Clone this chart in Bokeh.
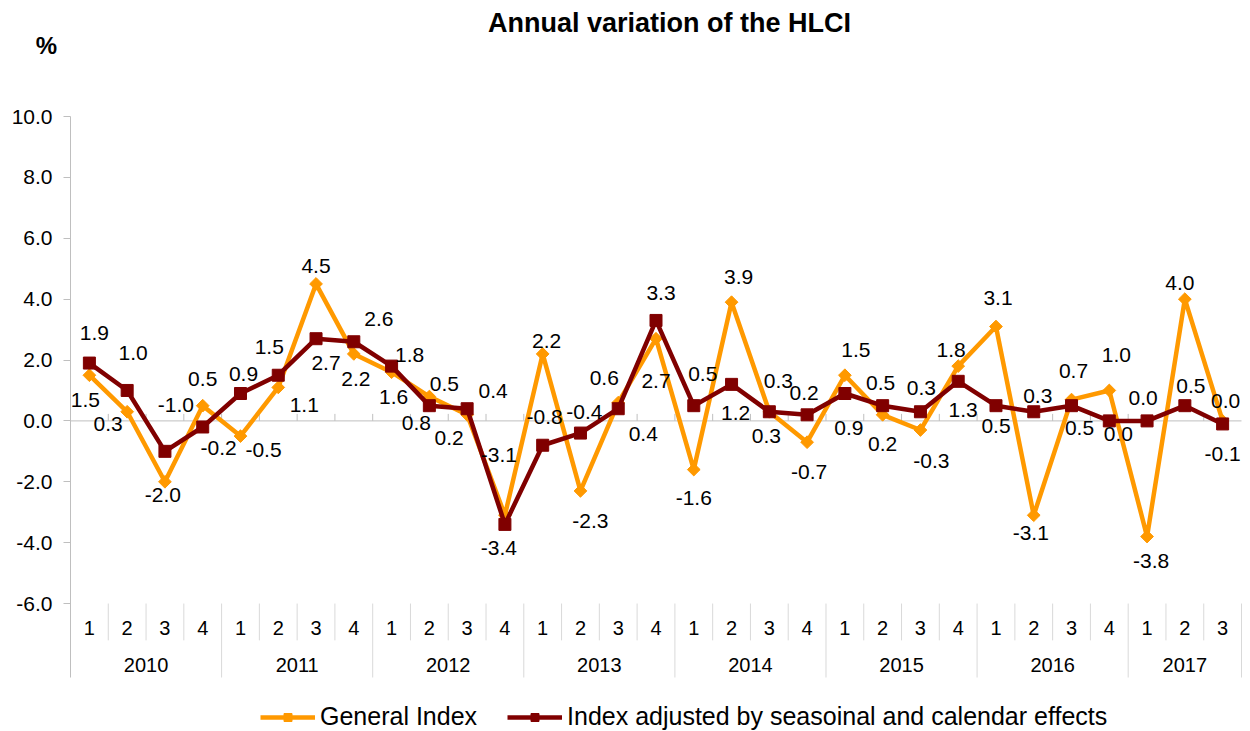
from bokeh.plotting import figure
from bokeh.models import (ColumnDataSource, Range1d, FixedTicker, PrintfTickFormatter,
                          Label, Legend, LegendItem)
from bokeh.core.properties import value
from bokeh.embed import file_html
from bokeh.resources import INLINE
import math

FONT = "Liberation Sans"

# ---------------- data ----------------
years = ["2010", "2011", "2012", "2013", "2014", "2015", "2016", "2017"]
quarters_per_year = [4, 4, 4, 4, 4, 4, 4, 3]
quarter_labels = ["1", "2", "3", "4"] * 7 + ["1", "2", "3"]

general = [1.5, 0.3, -2.0, 0.5,
           -0.5, 1.1, 4.5, 2.2,
           1.6, 0.8, 0.2, -3.1,
           2.2, -2.3, 0.6, 2.7,
           -1.6, 3.9, 0.3, -0.7,
           1.5, 0.2, -0.3, 1.8,
           3.1, -3.1, 0.7, 1.0,
           -3.8, 4.0, 0.0]

adjusted = [1.9, 1.0, -1.0, -0.2,
            0.9, 1.5, 2.7, 2.6,
            1.8, 0.5, 0.4, -3.4,
            -0.8, -0.4, 0.4, 3.3,
            0.5, 1.2, 0.3, 0.2,
            0.9, 0.5, 0.3, 1.3,
            0.5, 0.3, 0.5, 0.0,
            0.0, 0.5, -0.1]

y_ticks = [-6, -4, -2, 0, 2, 4, 6, 8, 10]
y_min, y_max = -6, 10

# label placement (pixel offsets of each data label from its point)
gen_dx = [-4, -19, -2, 0, 23, 26, 0, 2, 2, -13, -18, -6, 4, 10, -14, 0,
          0, 7, -3, 2, 11, 0, 11, -7, 2, -3, 2, 7, 4, -5, 3]
gen_dy = [25, 12, 13, -27, 14, 18, -18, 25, 25, 26, 23, -60, -13, 30, -25, 42,
          28, -25, 24, 30, -25, 29, 31, -16, -29, 18, -29, -35, 24, -16, -20]
adj_dx = [5, 6, 11, 16, 3, -9, 10, 25, 18, 15, 26, -6, 2, 4, 25, 5,
          9, 4, 9, -3, 4, -2, 1, 5, 0, 4, 8, 9, -4, 6, 0]
adj_dy = [-30, -37, -46, 21, -20, -28, 24, -23, -11, -22, -18, 24, -28, -21, 25, -27,
          -32, 29, -31, -22, 34, -23, -24, 29, 20, -16, 22, 13, -23, -20, 30]

ORANGE = "#FF9900"
MAROON = "#800000"
AXIS = "#BFBFBF"
SEP = "#D9D9D9"

n = len(general)
xs = list(range(n))
left = -0.5
right = n - 0.5

p = figure(width=1250, height=731, output_backend="svg", toolbar_location=None, tools="",
           x_range=Range1d(-2.3531, 30.738), y_range=Range1d(-10.204, 13.811),
           x_axis_location=None,
           min_border_left=0, min_border_right=0, min_border_top=0, min_border_bottom=0)
p.outline_line_color = None
p.grid.grid_line_color = None
p.background_fill_color = "white"

ya = p.yaxis[0]
ya.fixed_location = left
ya.ticker = FixedTicker(ticks=y_ticks)
ya.formatter = PrintfTickFormatter(format="%.1f")
ya.bounds = (-8.43, y_max)
ya.axis_line_color = AXIS
ya.major_tick_line_color = AXIS
ya.major_tick_out = 7
ya.major_tick_in = 0
ya.minor_tick_line_color = None
ya.major_label_text_font = FONT
ya.major_label_text_font_size = "21px"
ya.major_label_text_color = "black"
ya.major_label_standoff = 11

# zero line with small ticks at category boundaries
p.segment(x0=[left], y0=[0], x1=[right], y1=[0], line_color=AXIS, line_width=1, level="underlay")
bounds = [i + 0.5 for i in range(n - 1)]
p.segment(x0=bounds, y0=[0] * len(bounds), x1=bounds, y1=[0.23] * len(bounds),
          line_color=AXIS, line_width=1, level="underlay")

# category axis below the plot: separators and labels
year_starts = []
acc = 0
for q in quarters_per_year:
    year_starts.append(acc)
    acc += q
year_bounds = [s + q - 0.5 for s, q in zip(year_starts, quarters_per_year)]
quarter_bounds = [b for b in bounds if b not in year_bounds]
p.segment(x0=quarter_bounds, y0=[y_min] * len(quarter_bounds), x1=quarter_bounds,
          y1=[-7.21] * len(quarter_bounds), line_color=SEP, line_width=1)
p.segment(x0=year_bounds, y0=[y_min] * len(year_bounds), x1=year_bounds,
          y1=[-8.43] * len(year_bounds), line_color=SEP, line_width=1)

p.text(x=xs, y=[-6.82] * n, text=quarter_labels, text_font=value(FONT), text_font_size="20px",
       text_align="center", text_baseline="middle", text_color="black")
year_centers = [s + (q - 1) / 2 for s, q in zip(year_starts, quarters_per_year)]
p.text(x=year_centers, y=[-8.03] * len(years), text=years, text_font=value(FONT),
       text_font_size="20px", text_align="center", text_baseline="middle", text_color="black")

# series
gsrc = ColumnDataSource(dict(x=xs, y=general, t=[f"{v:.1f}" for v in general], dx=gen_dx, dy=gen_dy))
asrc = ColumnDataSource(dict(x=xs, y=adjusted, t=[f"{v:.1f}" for v in adjusted], dx=adj_dx, dy=adj_dy))

gl = p.line("x", "y", source=gsrc, line_color=ORANGE, line_width=4.5, line_join="round")
gs = p.scatter("x", "y", source=gsrc, marker="square", size=9, angle=math.pi / 4,
               fill_color=ORANGE, line_color=ORANGE)
al = p.line("x", "y", source=asrc, line_color=MAROON, line_width=4.5, line_join="round")
asq = p.scatter("x", "y", source=asrc, marker="square", size=12, fill_color=MAROON, line_color=MAROON)

for src in (gsrc, asrc):
    p.text(x="x", y="y", text="t", x_offset="dx", y_offset="dy", source=src,
           text_font=value(FONT), text_font_size="21px", text_align="center",
           text_baseline="middle", text_color="black")

# title and unit
p.add_layout(Label(x=15.355, y=13.07, text="Annual variation of the HLCI", text_font=FONT,
                   text_font_size="27px", text_font_style="bold", text_align="center",
                   text_baseline="middle", text_color="black"))
p.add_layout(Label(x=-1.138, y=12.33, text="%", text_font=FONT, text_font_size="24px",
                   text_font_style="bold", text_align="center", text_baseline="middle",
                   text_color="black"))

legend = Legend(items=[LegendItem(label="General Index", renderers=[gl, gs]),
                       LegendItem(label="Index adjusted by seasoinal and calendar effects",
                                  renderers=[al, asq])],
                orientation="horizontal", location=(260, 0), glyph_width=55, glyph_height=20,
                label_standoff=5, spacing=30, padding=0, margin=0, border_line_color=None,
                background_fill_alpha=0, label_text_font=FONT, label_text_font_size="25px",
                label_text_color="black")
p.add_layout(legend, "center")

open("out.html", "w").write(file_html(p, INLINE))
